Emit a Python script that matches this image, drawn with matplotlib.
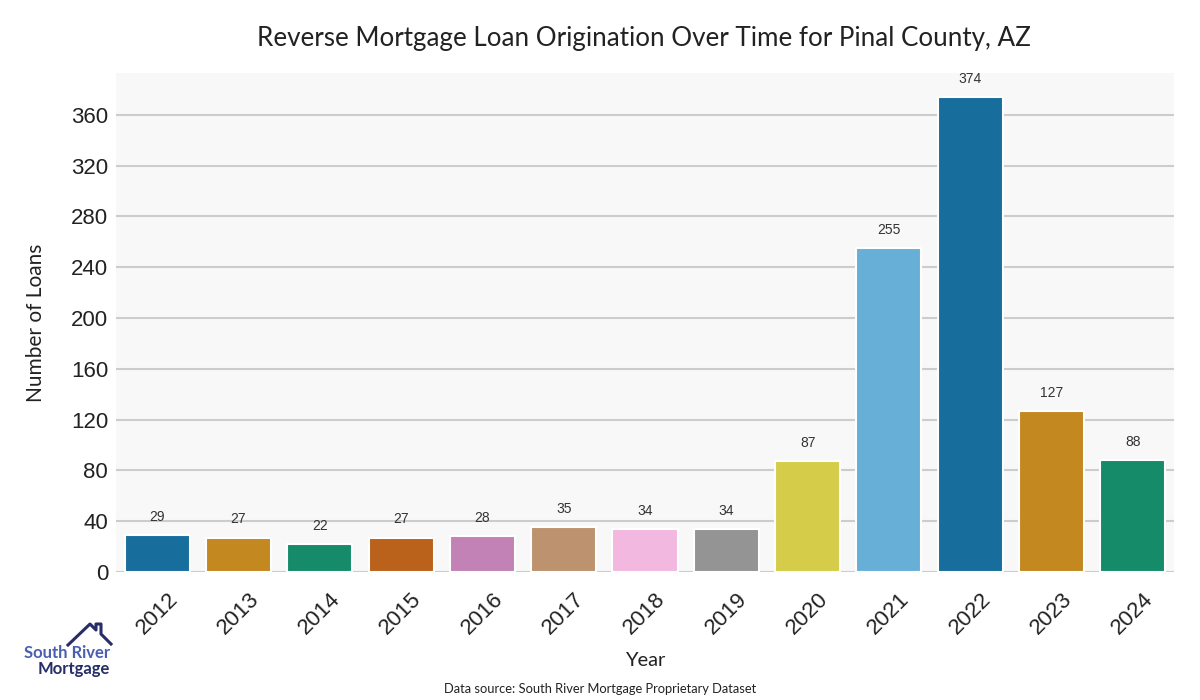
import matplotlib
matplotlib.use("Agg")
import matplotlib.pyplot as plt
import seaborn as sns
from matplotlib.lines import Line2D

years = ["2012", "2013", "2014", "2015", "2016", "2017", "2018",
         "2019", "2020", "2021", "2022", "2023", "2024"]
loans = [29, 27, 22, 27, 28, 35, 34, 34, 87, 255, 374, 127, 88]

base = sns.color_palette("colorblind")
colors = [sns.desaturate(base[i % 10], 0.75) for i in range(len(years))]

fig = plt.figure(figsize=(12, 7), dpi=100)
ax = fig.add_axes([0.097, 0.183, 0.881, 0.713])
ax.set_facecolor("#f8f8f8")

x = range(len(years))
bars = ax.bar(x, loans, width=0.8, color=colors, edgecolor="white", linewidth=1.5, zorder=3)
for b, v in zip(bars, loans):
    ax.annotate(str(v), (b.get_x() + b.get_width() / 2, v), xytext=(0, 8),
                textcoords="offset points", ha="center", va="bottom",
                fontsize=10, color="#333333", family="Liberation Sans")

ax.set_xlim(-0.5, len(years) - 0.5)
ax.set_ylim(0, 393)
ax.set_yticks(range(0, 361, 40))
ax.yaxis.grid(True, color="#cccccc", linewidth=1.5, zorder=0)
ax.set_axisbelow(True)
for s in ax.spines.values():
    s.set_visible(False)
ax.tick_params(axis="both", length=0, labelsize=16, colors="#222222", pad=6)
ax.tick_params(axis="x", pad=12)
ax.set_xticks(list(x))
ax.set_xticklabels(years, rotation=45, ha="center", family="Liberation Sans")
for lab in ax.get_yticklabels():
    lab.set_family("Liberation Sans")

ax.set_xlabel("Year", fontsize=14.5, color="#222222", family="Lato", labelpad=10)
ax.set_ylabel("Number of Loans", fontsize=15, color="#222222", family="Lato", labelpad=18)
fig.text(0.537, 0.945, "Reverse Mortgage Loan Origination Over Time for Pinal County, AZ",
         ha="center", va="center", fontsize=18.7, color="#222222", family="Lato")
fig.text(0.5, 0.016, "Data source: South River Mortgage Proprietary Dataset",
         ha="center", va="center", fontsize=9.3, color="#222222", family="Lato")

# logo
fig.text(110 / 1200, 1 - 653 / 700, "South River", fontsize=12, fontweight="bold",
         color="#4a5faf", family="Lato", va="center", ha="right")
fig.text(110 / 1200, 1 - 669 / 700, "Mortgage", fontsize=12, fontweight="bold",
         color="#272d66", family="Lato", va="center", ha="right")
px = [68, 90, 96, 96, 101, 101, 111]
py = [645, 624, 630, 624, 624, 634, 644]
fig.add_artist(Line2D([p / 1200 for p in px], [1 - p / 700 for p in py],
                      color="#272d66", linewidth=2.2, transform=fig.transFigure))

fig.savefig("out.png", dpi=100, facecolor="white")
